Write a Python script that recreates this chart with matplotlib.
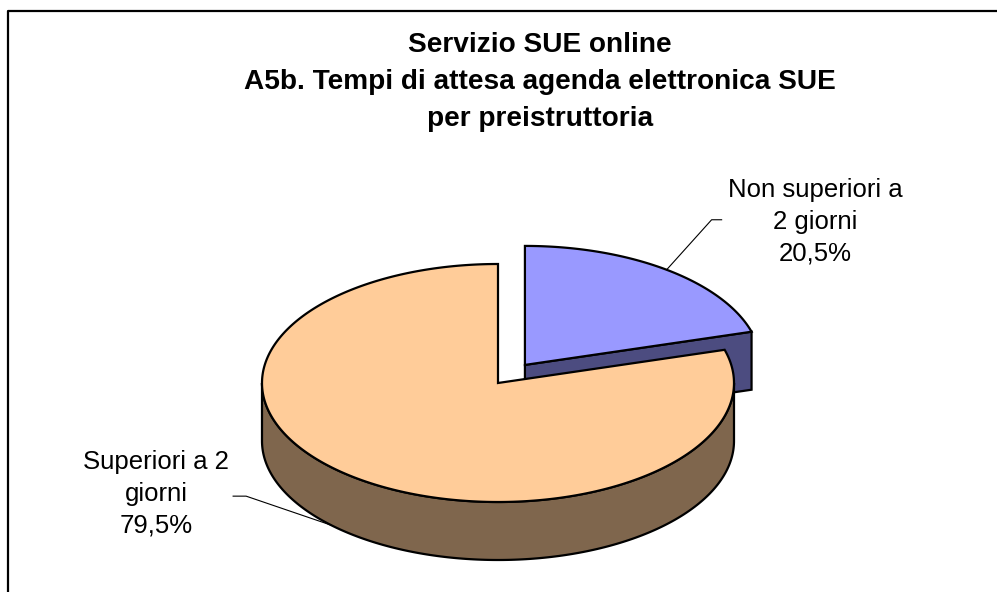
import numpy as np
import matplotlib.pyplot as plt
from matplotlib.patches import Polygon
from matplotlib.lines import Line2D

plt.rcParams['font.family'] = ['Liberation Sans', 'DejaVu Sans']

# data
categories = ['Non superiori a\n2 giorni', 'Superiori a 2\ngiorni']
values = [20.5, 79.5]
top_colors = ['#9999ff', '#ffcc99']
side_colors = ['#4c4c80', '#7f664d']
explode = [0.19, 0.0]
title = 'Servizio SUE online\nA5b. Tempi di attesa agenda elettronica SUE\nper preistruttoria'

# pie geometry in pixel units (y down)
cx, cy = 498, 383
A, B = 236, 119
depth = 58

fig = plt.figure(figsize=(9.97, 5.92), dpi=100)
ax = fig.add_axes([0, 0, 1, 1])
ax.set_xlim(0, 997)
ax.set_ylim(592, 0)
ax.axis('off')


def ell(theta, ox, oy, dz=0.0):
    t = np.radians(theta)
    return np.column_stack([ox + A * np.cos(t), oy - B * np.sin(t) + dz])


# slices go clockwise from 12 o'clock
total = sum(values)
start = 90.0
slices = []
for v, e in zip(values, explode):
    sweep = 360.0 * v / total
    ts, te = start, start - sweep
    mid = np.radians((ts + te) / 2)
    ox = cx + e * A * np.cos(mid)
    oy = cy - e * B * np.sin(mid)
    slices.append((ts, te, ox, oy))
    start = te

ec = 'black'
lw = 1.6
for i, (ts, te, ox, oy) in enumerate(slices):
    # radial faces
    for edge, normal in ((ts, ts + 90), (te, te - 90)):
        if np.sin(np.radians(normal)) < -1e-6:
            p = ell(np.array([edge]), ox, oy)[0]
            face = [(ox, oy), tuple(p), (p[0], p[1] + depth), (ox, oy + depth)]
            ax.add_patch(Polygon(face, closed=True, fc=side_colors[i], ec=ec, lw=lw, zorder=2 + 2 * i))
    # outer wall, front half only
    for k in range(-2, 3):
        lo = max(te, -180 + 360 * k)
        hi = min(ts, 360 * k)
        if hi > lo:
            th = np.linspace(lo, hi, 200)
            upper = ell(th, ox, oy)
            lower = ell(th[::-1], ox, oy, depth)
            ax.add_patch(Polygon(np.vstack([upper, lower]), closed=True,
                                 fc=side_colors[i], ec=ec, lw=lw, zorder=2 + 2 * i))
    # top face
    th = np.linspace(ts, te, 400)
    top = np.vstack([[ox, oy], ell(th, ox, oy)])
    ax.add_patch(Polygon(top, closed=True, fc=top_colors[i], ec=ec, lw=lw, zorder=3 + 2 * i))

# labels
pct = [f'{v:.1f}%'.replace('.', ',') for v in values]
fs = 18.5

# blue label, leader from slice's outer edge at mid angle
ts, te, ox, oy = slices[0]
a0 = ell(np.array([(ts + te) / 2]), ox, oy)[0]
ax.plot([a0[0], a0[0] + 45, a0[0] + 55], [a0[1], a0[1] - 50, a0[1] - 50],
        color='black', lw=0.8, zorder=10)
ax.text(815, 222, categories[0] + '\n' + pct[0], ha='center', va='center',
        fontsize=fs, linespacing=1.4, zorder=10)

# orange label, leader from the base of the wall
ts, te, ox, oy = slices[1]
a1 = ell(np.array([225.0]), ox, oy, depth)[0]
ax.plot([a1[0], a1[0] - 85, a1[0] - 98], [a1[1], a1[1] - 29, a1[1] - 29],
        color='black', lw=0.8, zorder=10)
ax.text(156, 494, categories[1] + '\n' + pct[1], ha='center', va='center',
        fontsize=fs, linespacing=1.4, zorder=10)

ax.text(540, 82, title, ha='center', va='center', fontsize=20.2,
        fontweight='bold', linespacing=1.53)

# chart frame (cut off at right and bottom)
fig.add_artist(Line2D([8 / 997, 8 / 997, 1], [0, 1 - 11 / 592, 1 - 11 / 592],
                      transform=fig.transFigure, color='black', lw=1.6))

fig.savefig('out.png', dpi=100)
